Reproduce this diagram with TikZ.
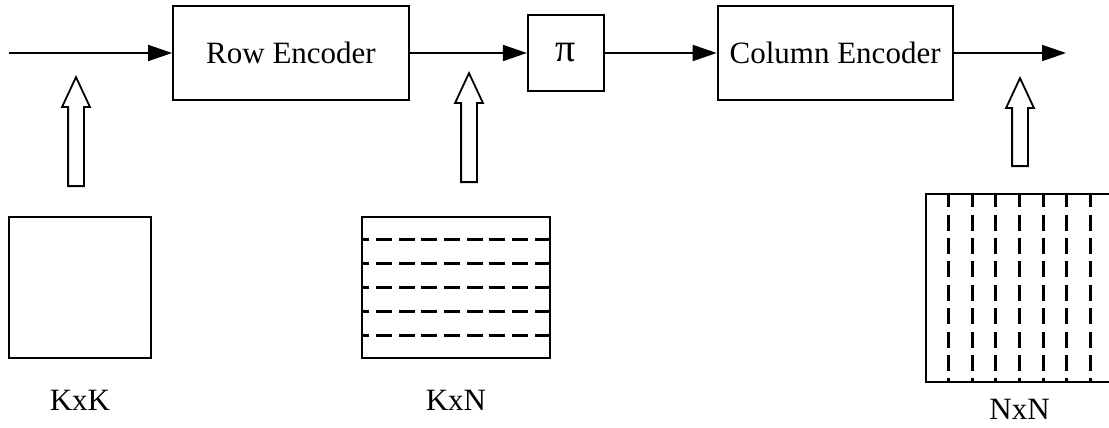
\documentclass[tikz,border=0pt]{standalone}
\usepackage{fontspec}
\setmainfont{Liberation Serif}
\usetikzlibrary{shapes,arrows.meta,positioning,calc}

\begin{document}
\begin{tikzpicture}[
    x=1pt, y=-1pt,
    font=\fontsize{31}{36}\selectfont,
    line width=1.8pt,
    node distance=117pt,
    box/.style={rectangle, draw, inner sep=0pt, minimum width=236pt, minimum height=94pt, align=center},
    perm/.style={box, minimum width=76pt, minimum height=76pt, font=\fontsize{40}{40}\selectfont},
    flow/.style={-{Triangle[length=24pt,width=16pt]}},
    block/.style={rectangle, draw, inner sep=0pt},
    feed/.style={single arrow, draw, rotate=90, anchor=tail, inner xsep=0pt, inner ysep=7pt,
        single arrow head extend=6pt, single arrow tip angle=50, minimum height=109pt},
    dimlabel/.style={inner sep=0pt},
    rowcut/.style={line width=3pt, dash pattern=on 16pt off 6.7pt, dash phase=8pt},
    colcut/.style={line width=3pt, dash pattern=on 16pt off 7.4pt, dash phase=2pt},
]
    \useasboundingbox (0,0) rectangle (1109,428);

    % encoder chain
    \node[box] (row) at (291,53) {Row Encoder};
    \node[perm, right=of row] (perm) {π};
    \node[box, right=112pt of perm, minimum width=235pt] (col) {Column Encoder};
    \coordinate (in) at (9,53);
    \coordinate (out) at (1066,53);

    \draw[flow] (in) -- (row);
    \draw[flow] (row) -- (perm);
    \draw[flow] (perm) -- (col);
    \draw[flow] (col) -- (out);

    % code arrays
    \node[block, minimum width=142pt, minimum height=141pt] (kk) at (80,287.5) {};
    \node[block, minimum width=188pt, minimum height=141pt] (kn) at (456,287.5) {};
    \node[block, minimum width=187pt, minimum height=188pt] (nn) at (1019.5,288) {};

    \foreach \r in {1,...,5}
        \draw[rowcut] ($(kn.north west)!\r/6!(kn.south west)$) -- ($(kn.north east)!\r/6!(kn.south east)$);
    \foreach \c in {1,...,7}
        \draw[colcut] ($(nn.north west)!\c/8!(nn.north east)$) -- ($(nn.south west)!\c/8!(nn.south east)$);

    \node[dimlabel, below=30pt of kk] (kkl) {KxK};
    \node[dimlabel, below=30pt of kn] (knl) {KxN};
    \node[dimlabel, below=15pt of nn] (nnl) {NxN};

    % hollow feed arrows
    \node[feed] (ka) at (76,187) {};
    \node[feed] (na) at (469,183) {};
    \node[feed, minimum height=88pt] (ca) at (1020,167) {};
\end{tikzpicture}
\end{document}
